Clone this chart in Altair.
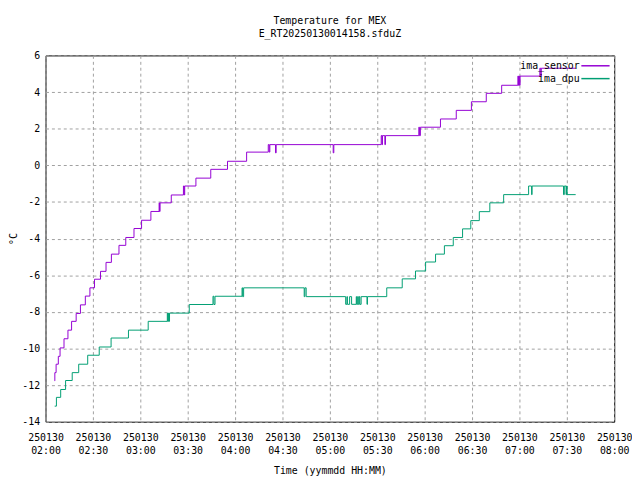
import altair as alt
import pandas as pd

# minutes after 2025-01-30 02:00 and temperatures (degC)
sensor_t = [5.8, 5.9, 6.7, 8.1, 9.2, 11.7, 14.2, 16.5, 19.4, 22.1, 25.2, 28.1, 31.0, 34.8,
            38.3, 41.7, 46.5, 50.8, 56.0, 60.8, 66.7, 71.9, 72.2, 72.5, 79.6, 87.3, 87.8,
            88.1, 95.2, 104.6, 115.2, 127.3, 141.0, 141.6, 142.0, 145.6, 146.0, 182.1,
            182.5, 212.5, 213.0, 213.3, 214.8, 215.2, 236.3, 236.7, 237.3, 250.0, 260.0,
            269.6, 279.0, 288.75, 299.0, 299.4, 299.8, 300.1, 300.4, 312.9, 313.5, 313.8,
            335.6]
sensor_v = [-11.77, -11.32, -10.86, -10.43, -9.97, -9.47, -9.0, -8.52, -8.09, -7.62, -7.14,
            -6.69, -6.22, -5.79, -5.3, -4.85, -4.37, -3.94, -3.45, -3.0, -2.52, -2.05, -2.52,
            -2.05, -1.62, -1.13, -1.62, -1.13, -0.7, -0.22, 0.22, 0.72, 1.13, 0.72, 1.13,
            0.68, 1.13, 0.68, 1.13, 1.62, 1.13, 1.62, 1.13, 1.62, 2.08, 1.62, 2.08, 2.53,
            3.0, 3.47, 3.93, 4.37, 4.87, 4.37, 4.87, 4.37, 4.87, 5.3, 4.87, 5.3, 5.3]

dpu_t = [5.8, 6.9, 9.6, 12.7, 16.9, 21.0, 26.7, 34.0, 41.5, 52.5, 65.0, 77.1, 77.4, 77.7,
         78.0, 78.5, 91.0, 106.0, 106.6, 107.3, 124.4, 124.8, 125.4, 163.75, 164.2, 165.0,
         190.0, 190.8, 191.1, 192.5, 193.75, 196.7, 197.0, 197.6, 198.0, 198.6, 199.0,
         199.8, 203.5, 203.8, 216.0, 225.8, 234.2, 240.6, 246.9, 252.5, 258.1, 264.0,
         269.2, 274.6, 281.25, 290.0, 305.8, 307.7, 308.0, 327.9, 328.4, 329.5, 329.8,
         330.2, 335.6]
dpu_v = [-13.15, -12.67, -12.24, -11.75, -11.32, -10.86, -10.37, -9.92, -9.43, -9.0, -8.52,
         -8.07, -8.52, -8.07, -8.52, -8.07, -7.6, -7.15, -7.6, -7.15, -6.69, -7.17, -6.69,
         -7.17, -6.69, -7.17, -7.59, -7.17, -7.59, -7.17, -7.59, -7.17, -7.59, -7.17,
         -7.59, -7.17, -7.59, -7.17, -7.59, -7.17, -6.69, -6.2, -5.77, -5.28, -4.85, -4.39,
         -3.94, -3.47, -3.02, -2.53, -2.05, -1.6, -1.13, -1.6, -1.13, -1.6, -1.13, -1.6,
         -1.13, -1.6, -1.6]

series_names = ["ima_sensor", "ima_dpu"]
series_colors = ["#9400d3", "#009e73"]
x_ticks = [0, 30, 60, 90, 120, 150, 180, 210, 240, 270, 300, 330, 360]
y_ticks = [-14, -12, -10, -8, -6, -4, -2, 0, 2, 4, 6]
title_lines = ["Temperature for MEX", "E_RT20250130014158.sfduZ"]

df = pd.concat([
    pd.DataFrame({"t": sensor_t, "v": sensor_v, "series": series_names[0],
                  "idx": range(len(sensor_t))}),
    pd.DataFrame({"t": dpu_t, "v": dpu_v, "series": series_names[1],
                  "idx": range(len(dpu_t))}),
])

FONT = "DejaVu Sans Mono"

x_label_expr = ("['250130', (2 + floor(datum.value / 60) < 10 ? '0' : '') + "
                "(2 + floor(datum.value / 60)) + ':' + "
                "(datum.value % 60 == 0 ? '00' : '30')]")

chart = alt.Chart(df).mark_line(interpolate="step-after", strokeWidth=1).encode(
    x=alt.X("t:Q",
            scale=alt.Scale(domain=[0, 360], nice=False, zero=False),
            axis=alt.Axis(values=x_ticks, labelExpr=x_label_expr,
                          title="Time (yymmdd HH:MM)", labelLineHeight=13,
                          labelPadding=11, titlePadding=10, labelOverlap=False,
                          labelFlush=False, labelBound=False)),
    y=alt.Y("v:Q",
            scale=alt.Scale(domain=[-14, 6], nice=False, zero=False),
            axis=alt.Axis(values=y_ticks, labelExpr="'' + datum.value",
                          title="°C", labelPadding=6, titlePadding=3,
                          labelOverlap=False, labelFlush=False)),
    color=alt.Color("series:N",
                    scale=alt.Scale(domain=series_names, range=series_colors),
                    legend=alt.Legend(title=None, orient="none", legendX=464, legendY=3,
                                      symbolType="M-2.2,0H2.2", symbolSize=169,
                                      symbolStrokeWidth=1.5, symbolOffset=85.5,
                                      labelOffset={"expr": "-23.5"}, labelAlign="right",
                                      labelFont=FONT,
                                      labelFontSize=10, labelColor="black",
                                      rowPadding=0)),
    order="idx:Q",
).properties(
    width=576,
    height=371,
    title=alt.TitleParams(text=title_lines, font=FONT, fontSize=10, fontWeight="normal",
                          lineHeight=13, offset=12, anchor="middle", color="black"),
    autosize=alt.AutoSizeParams(type="none"),
    padding={"left": 38, "top": 45, "right": 18, "bottom": 56},
).configure_axis(
    labelFont=FONT, labelFontSize=10, labelColor="black",
    titleFont=FONT, titleFontSize=10, titleFontWeight="normal", titleColor="black",
    grid=True, gridColor="#a0a0a0", gridDash=[3, 3], gridWidth=1, gridOpacity=1,
    ticks=False, domain=False,
).configure_view(
    stroke="black", strokeWidth=1,
)

chart.save("out.html", embed_options={"renderer": "svg", "actions": False})
